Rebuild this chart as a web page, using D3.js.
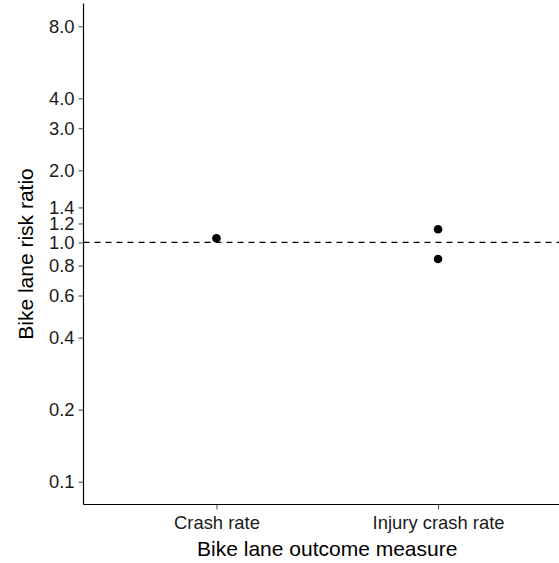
<!DOCTYPE html>
<html>
<head>
<meta charset="utf-8">
<script src="https://cdn.jsdelivr.net/npm/d3@7"></script>
<style>
  body { margin: 0; background: #fff; }
  svg { display: block; font-family: "Liberation Sans", Arial, sans-serif; }
</style>
</head>
<body>
<svg width="559" height="563"></svg>
<script>
const categories = ["Crash rate", "Injury crash rate"];
const outcome = ["Crash rate", "Injury crash rate", "Injury crash rate"];
const riskRatio = [1.04, 1.135, 0.853];
const yTicks = [0.1, 0.2, 0.4, 0.6, 0.8, 1.0, 1.2, 1.4, 2.0, 3.0, 4.0, 8.0];
const yLimits = [0.1, 8];
const refLine = 1.0;

main();

function main() {
  const data = outcome.map((o, i) => ({ outcome: o, value: riskRatio[i] }));
  render(data);
}

function render(data) {
  const canvas = d3.select("svg");

  const paddingLeft = 83.5;
  const panelRight = 571;
  const paddingTop = 3.5;
  const axisBottomY = 504.5;

  // ggplot-like 5% expansion on the log scale
  const lo = Math.log10(yLimits[0]);
  const hi = Math.log10(yLimits[1]);
  const pad = (hi - lo) * 0.05;

  const yScale = d3
    .scaleLog()
    .domain([Math.pow(10, lo - pad), Math.pow(10, hi + pad)])
    .range([axisBottomY, paddingTop]);

  const xScale = d3
    .scalePoint()
    .domain(categories)
    .range([paddingLeft, panelRight])
    .padding(0.6);

  // reference line
  canvas
    .append("line")
    .attr("x1", paddingLeft)
    .attr("x2", panelRight)
    .attr("y1", yScale(refLine))
    .attr("y2", yScale(refLine))
    .attr("stroke", "#000")
    .attr("stroke-width", 1.1)
    .attr("stroke-dasharray", "6,5");

  // points
  canvas
    .append("g")
    .selectAll("circle")
    .data(data)
    .join("circle")
    .attr("cx", (d) => xScale(d.outcome))
    .attr("cy", (d) => yScale(d.value))
    .attr("r", 4.3)
    .attr("fill", "#000");

  // y axis
  const yAxis = d3
    .axisLeft(yScale)
    .tickValues(yTicks)
    .tickFormat(d3.format(".1f"))
    .tickSize(5)
    .tickPadding(4);

  const yG = canvas
    .append("g")
    .attr("transform", `translate(${paddingLeft}, 0)`)
    .call(yAxis);
  yG.select(".domain").remove();
  yG.selectAll(".tick line").attr("stroke", "#555").attr("stroke-width", 1.1);
  yG.selectAll(".tick text")
    .attr("fill", "#1a1a1a")
    .attr("font-size", 18.4)
    .attr("font-family", "Liberation Sans, Arial, sans-serif");
  yG.append("line")
    .attr("x1", 0)
    .attr("x2", 0)
    .attr("y1", paddingTop)
    .attr("y2", axisBottomY)
    .attr("stroke", "#000")
    .attr("stroke-width", 1.2);

  // x axis
  const xAxis = d3.axisBottom(xScale).tickSize(5).tickPadding(6);
  const xG = canvas
    .append("g")
    .attr("transform", `translate(0, ${axisBottomY})`)
    .call(xAxis);
  xG.select(".domain").remove();
  xG.selectAll(".tick line").attr("stroke", "#555").attr("stroke-width", 1.1);
  xG.selectAll(".tick text")
    .attr("fill", "#1a1a1a")
    .attr("font-size", 18.4)
    .attr("font-family", "Liberation Sans, Arial, sans-serif");
  xG.append("line")
    .attr("x1", paddingLeft)
    .attr("x2", panelRight)
    .attr("y1", 0)
    .attr("y2", 0)
    .attr("stroke", "#000")
    .attr("stroke-width", 1.2);

  // axis titles
  canvas
    .append("text")
    .text("Bike lane outcome measure")
    .attr("x", (paddingLeft + panelRight) / 2)
    .attr("y", 556)
    .attr("text-anchor", "middle")
    .attr("font-size", 21)
    .attr("fill", "#000");

  const yMid = (paddingTop + axisBottomY) / 2;
  canvas
    .append("text")
    .text("Bike lane risk ratio")
    .attr("x", 33)
    .attr("y", yMid)
    .attr("text-anchor", "middle")
    .attr("font-size", 21)
    .attr("fill", "#000")
    .attr("transform", `rotate(-90 33 ${yMid})`);
}
</script>
</body>
</html>
